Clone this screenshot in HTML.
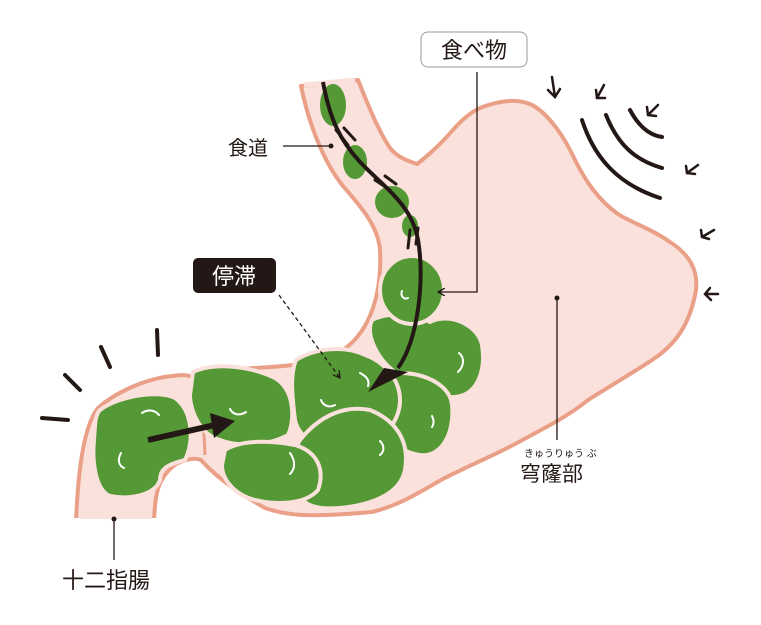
<!DOCTYPE html>
<html><head><meta charset="utf-8"><style>
html,body{margin:0;padding:0;background:#fff;width:761px;height:625px;overflow:hidden}
svg{display:block}
text{font-family:"Liberation Sans","Noto Sans CJK JP",sans-serif}
</style></head><body>
<svg width="761" height="625" viewBox="0 0 761 625" xmlns="http://www.w3.org/2000/svg">
<defs>
<marker id="ah" markerWidth="8" markerHeight="8" refX="7" refY="4" orient="auto" markerUnits="userSpaceOnUse"><path d="M0,0 L7,4 L0,8" fill="none" stroke="#231815" stroke-width="1.3"/></marker>
</defs>
<!-- stomach -->
<path d="M301,86 C308,120 322,160 343,186 C360,206 378,225 380,250 C382,290 372,330 343,350 C320,364 290,366 255,368 C235,369 216,372 201,384 C195,375 185,374 172,376 C150,378 118,390 98,408 C84,425 78,470 76,522 L154,522 C155,495 157,478 176,464 C188,458 196,458 201,460 C210,470 225,485 265,508 C285,515 304,518 372,512 C400,505 420,492 441,480 C470,465 495,455 515,444 C545,428 570,415 588,400 C620,380 645,365 652,360 C675,345 690,325 696,290 C698,270 690,255 670,242 C650,228 630,222 618,214 C598,200 585,180 575,160 C565,138 550,116 534,106 C520,98 500,100 480,108 C465,115 455,128 451,132 C440,145 425,158 417,164 C405,160 396,156 390,148 C378,130 368,105 358,80 Z" fill="#fbe1dc" stroke="#ea9f87" stroke-width="4" stroke-linejoin="round"/>
<line x1="304" y1="85" x2="355" y2="80" stroke="#fbe1dc" stroke-width="5"/>
<rect x="60" y="518" width="110" height="10" fill="#fff"/>
<line x1="80" y1="516" x2="152" y2="516" stroke="#fbe1dc" stroke-width="6"/>
<path d="M197,392 C203,410 204,430 205,455" stroke="#ea9f87" stroke-width="3" fill="none"/>
<!-- green blobs -->
<g fill="#559936" stroke="#fbe1dc" stroke-width="4">
<ellipse cx="333" cy="105" rx="15" ry="23"/>
<ellipse cx="355" cy="162" rx="14" ry="19"/>
<ellipse cx="392" cy="202" rx="19" ry="18"/>
<ellipse cx="410" cy="226" rx="10" ry="13"/>
<path d="M372,320 C392,310 420,316 430,322 C450,312 478,325 482,345 C486,370 478,395 455,397 C430,398 412,392 395,372 C378,360 365,335 372,320 Z"/>
<ellipse cx="412" cy="290" rx="32" ry="34"/>
<path d="M387,375 C410,368 450,380 452,405 C455,435 440,458 420,455 C400,452 385,440 383,420 C380,400 378,385 387,375 Z"/>
<path d="M296,360 C315,348 345,345 365,355 C385,362 400,380 400,400 C400,420 385,440 360,450 C335,455 300,445 295,420 C292,395 290,375 296,360 Z"/>
<path d="M300,440 C320,415 345,405 370,410 C395,420 410,440 405,470 C400,495 370,505 340,508 C315,510 300,505 298,490 C296,470 290,455 300,440 Z"/>
<path d="M193,372 C215,362 250,366 275,378 C295,390 295,420 288,435 C270,445 240,448 220,440 C200,435 190,410 190,395 Z"/>
<path d="M225,450 C240,440 270,440 295,445 C318,452 325,470 318,490 C305,505 275,505 255,500 C235,495 222,480 222,465 Z"/>
<path d="M100,410 C120,395 160,390 175,398 C192,410 195,440 185,460 C165,465 160,470 160,480 C155,495 130,500 110,496 C95,490 92,460 94,440 C95,425 95,415 100,410 Z"/>
</g>
<!-- white highlights -->
<g fill="none" stroke="#fff" stroke-width="2" stroke-linecap="round">
<path d="M142,413 C148,409 155,410 159,415"/>
<path d="M121,453 C117,460 119,466 124,468"/>
<path d="M230,409 C233,415 240,416 246,412"/>
<path d="M321,400 C323,406 330,408 335,405"/>
<path d="M360,373 C366,376 370,380 368,386"/>
<path d="M402,291 C400,296 404,300 408,298"/>
<path d="M459,353 C465,358 464,366 458,372"/>
<path d="M290,453 C295,460 296,468 290,474"/>
<path d="M380,441 C385,446 384,452 380,455"/>
<path d="M432,416 C434,420 434,424 432,427"/>
</g>
<!-- dark food path arrow -->
<path d="M323,82 C330,120 340,140 360,162 C385,188 412,205 418,240 C425,280 418,340 398,368" fill="none" stroke="#231815" stroke-width="4"/>
<path d="M384,368 L408,372 L368,392 Z" fill="#231815"/>
<g stroke="#231815" stroke-width="3" fill="none" stroke-linecap="round">
<path d="M336,130 L348,145"/><path d="M344,128 L355,140"/>
<path d="M375,180 L390,190"/><path d="M385,176 L396,184"/>
<path d="M410,230 L408,248"/><path d="M418,228 L416,244"/>
</g>
<!-- small arrow left -->
<line x1="148" y1="440" x2="215" y2="425" stroke="#231815" stroke-width="6"/>
<path d="M210,413 L235,421 L214,438 Z" fill="#231815"/>
<!-- motion lines right -->
<g stroke="#231815" stroke-width="4" fill="none" stroke-linecap="round">
<path d="M582,120 C595,160 620,185 660,198"/>
<path d="M606,115 C618,145 635,160 662,168"/>
<path d="M630,110 C638,125 648,135 662,137"/>
</g>
<g stroke="#231815" stroke-width="2.5" fill="none" stroke-linecap="round">
<path d="M552,77 L555,97 M548,90 L555,97 L560,89"/>
<path d="M604,85 L597,98 M596,90 L597,98 L605,98"/>
<path d="M658,105 L648,115 M647,107 L648,115 L656,116"/>
<path d="M698,165 L687,173 M686,166 L687,173 L695,174"/>
<path d="M714,230 L702,237 M701,230 L702,237 L709,239"/>
<path d="M718,294 L705,294 M710,288 L705,294 L711,300"/>
</g>
<!-- tick marks left -->
<g stroke="#231815" stroke-width="4" stroke-linecap="round">
<line x1="157" y1="330" x2="158" y2="355"/>
<line x1="101" y1="347" x2="110" y2="367"/>
<line x1="65" y1="375" x2="80" y2="390"/>
<line x1="42" y1="418" x2="68" y2="420"/>
</g>
<!-- labels -->
<rect x="421" y="32" width="106" height="35" rx="7" fill="#fff" stroke="#999" stroke-width="1"/>
<text x="474" y="58" font-size="22" text-anchor="middle" fill="#231815">食べ物</text>
<path d="M477,72 L477,292 L438,292" fill="none" stroke="#231815" stroke-width="1.3" marker-end="url(#ah)"/>
<text x="228" y="155" font-size="20" fill="#231815">食道</text>
<line x1="283" y1="146" x2="330" y2="146" stroke="#231815" stroke-width="1.3"/>
<circle cx="331" cy="146" r="2.5" fill="#231815"/>
<rect x="193" y="258" width="83" height="35" rx="5" fill="#231815"/>
<text x="234" y="284" font-size="22" text-anchor="middle" fill="#fff">停滞</text>
<line x1="279" y1="295" x2="340" y2="378" stroke="#231815" stroke-width="1.3" stroke-dasharray="4,3" marker-end="url(#ah)"/>
<circle cx="557" cy="298" r="2.5" fill="#231815"/>
<line x1="557" y1="298" x2="557" y2="440" stroke="#231815" stroke-width="1.3"/>
<text x="524" y="457" font-size="10" fill="#231815">きゅうりゅう ぶ</text>
<text x="520" y="481" font-size="21" fill="#231815">穹窿部</text>
<circle cx="114" cy="519" r="2.5" fill="#231815"/>
<line x1="114" y1="519" x2="114" y2="560" stroke="#231815" stroke-width="1.3"/>
<text x="62" y="588" font-size="22" fill="#231815">十二指腸</text>
</svg>
</body></html>
